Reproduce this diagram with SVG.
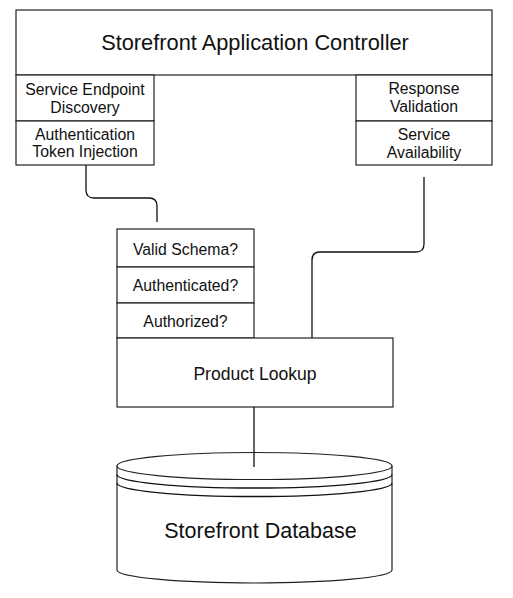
<svg xmlns="http://www.w3.org/2000/svg" width="513" height="598" viewBox="0 0 513 598">
<style>
.box{fill:#fff;stroke:#222;stroke-width:1.2}
.t{font-family:"Liberation Sans",Arial,sans-serif;fill:#111;text-anchor:middle}
.s{font-size:15.8px}
.conn{fill:none;stroke:#111;stroke-width:1.3}
</style>
<rect width="513" height="598" fill="#fff"/>
<g id="controller">
<rect class="box" x="16" y="10" width="476" height="65"/>
<text class="t" x="255" y="50" font-size="21.8">Storefront Application Controller</text>
</g>
<g id="service-endpoint-discovery">
<rect class="box" x="16" y="75" width="138" height="46"/>
<text class="t s" x="85" y="95">Service Endpoint</text>
<text class="t s" x="85" y="112.5">Discovery</text>
</g>
<g id="authentication-token-injection">
<rect class="box" x="16" y="121" width="138" height="44"/>
<text class="t s" x="85" y="140">Authentication</text>
<text class="t s" x="85" y="157">Token Injection</text>
</g>
<g id="response-validation">
<rect class="box" x="356" y="75" width="136" height="46"/>
<text class="t s" x="424" y="94">Response</text>
<text class="t s" x="424" y="112">Validation</text>
</g>
<g id="service-availability">
<rect class="box" x="356" y="121" width="136" height="44"/>
<text class="t s" x="424" y="140">Service</text>
<text class="t s" x="424" y="157.5">Availability</text>
</g>
<g id="valid-schema">
<rect class="box" x="117" y="229" width="137" height="38"/>
<text class="t s" x="185.5" y="254.5">Valid Schema?</text>
</g>
<g id="authenticated">
<rect class="box" x="117" y="267" width="137" height="36"/>
<text class="t s" x="185.5" y="291">Authenticated?</text>
</g>
<g id="authorized">
<rect class="box" x="117" y="303" width="137" height="35"/>
<text class="t s" x="185.5" y="327">Authorized?</text>
</g>
<g id="product-lookup">
<rect class="box" x="117" y="338" width="276" height="69"/>
<text class="t" x="255" y="380" font-size="17.6">Product Lookup</text>
</g>
<g id="storefront-database">
<path class="box" d="M117,466 V570 A137.5,13 0 0 0 392,570 V466 Z"/>
<ellipse class="box" cx="254.5" cy="466" rx="137.5" ry="13.5"/>
<path class="conn" d="M117,474.5 A137.5,13.5 0 0 0 392,474.5"/>
<path class="conn" d="M117,483 A137.5,13.5 0 0 0 392,483"/>
<text class="t" x="260.5" y="538" font-size="21.5">Storefront Database</text>
</g>
<g id="connectors">
<path class="conn" d="M86,165 V190 Q86,198 94,198 H149 Q157,198 157,206 V222"/>
<path class="conn" d="M424,177 V244 Q424,252 416,252 H320 Q312,252 312,260 V338"/>
<path class="conn" d="M254,407 V467"/>
</g>
</svg>
